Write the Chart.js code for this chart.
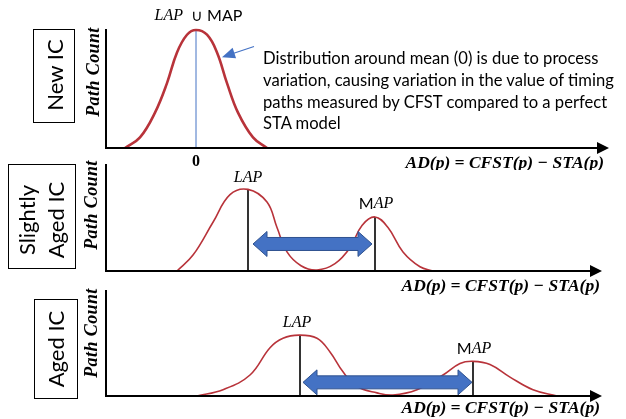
<!DOCTYPE html>
<html>
<head>
<meta charset="utf-8">
<script src="https://cdn.jsdelivr.net/npm/chart.js@4/dist/chart.umd.min.js"></script>
<style>
  body { margin: 0; background: #fff; }
  #wrap { position: relative; width: 626px; height: 419px; overflow: hidden; font-family: Lato, "Open Sans", sans-serif; }
  canvas { position: absolute; left: 0; }
  .box { position: absolute; border: 1.5px solid #000; box-sizing: border-box; }
  .rot { position: absolute; transform: translate(-50%, -50%) rotate(-90deg); white-space: nowrap; text-align: center; }
  .ic { font-size: 22px; line-height: 29px; }
  .pc { font: bold italic 18px "Liberation Serif", serif; letter-spacing: 0.4px; }
  #desc { position: absolute; left: 263px; top: 48px; font-size: 16.6px; line-height: 21.8px; white-space: nowrap; }
</style>
</head>
<body>
<div id="wrap">
  <canvas id="c1" width="626" height="170" style="top:0"></canvas>
  <canvas id="c2" width="626" height="150" style="top:150px"></canvas>
  <canvas id="c3" width="626" height="139" style="top:280px"></canvas>

  <div class="box" style="left:33px;top:29px;width:42px;height:94px"></div>
  <div class="rot ic" style="left:54px;top:75px">New IC</div>
  <div class="box" style="left:8px;top:164px;width:68px;height:105px"></div>
  <div class="rot ic" style="left:41px;top:220px">Slightly<br>Aged IC</div>
  <div class="box" style="left:34px;top:299px;width:44px;height:100px"></div>
  <div class="rot ic" style="left:55px;top:349px">Aged IC</div>

  <div class="rot pc" style="left:93px;top:72px">Path Count</div>
  <div class="rot pc" style="left:91px;top:205px">Path Count</div>
  <div class="rot pc" style="left:91px;top:333px">Path Count</div>

  <div id="desc">Distribution around mean (0) is due to process<br>variation, causing variation in the value of timing<br>paths measured by CFST compared to a perfect<br>STA model</div>
</div>
<script>
const xMin = -9, xMax = 40.5;

// New IC
const newX = [-7.1, -5.6, -4.1, -2.9, -1.9, -0.9, 0, 1.1, 2.1, 3.1, 4.2, 5.7, 7.1];
const newY = [0, 0.09, 0.30, 0.55, 0.81, 0.96, 1.0, 0.96, 0.81, 0.55, 0.30, 0.09, 0];

// Slightly aged IC
const slightX = [-1.9, -0.3, 1.7, 3.4, 5.2, 7.1, 8.1, 9.1, 10.5, 12.1, 13.9, 15.4, 16.6, 17.9, 19.2, 20.7, 22.4, 23.7];
const slightY = [0, 0.15, 0.46, 0.72, 0.77, 0.65, 0.41, 0.18, 0.05, 0.01, 0.07, 0.22, 0.43, 0.51, 0.41, 0.18, 0.04, 0];

// Aged IC
const agedX = [0.1, 2.7, 5.4, 7.4, 8.7, 10.3, 12.1, 13.4, 14.7, 16.1, 18.1, 19.7, 22.1, 24.7, 26.4, 27.7, 29.4, 31.4, 33.7, 36.1];
const agedY = [0, 0.06, 0.20, 0.46, 0.55, 0.58, 0.55, 0.42, 0.23, 0.09, 0.03, 0.01, 0.06, 0.20, 0.31, 0.33, 0.30, 0.18, 0.06, 0];

// LAP / MAP markers: [x, height]
const slightLap = [5.2, 0.77], slightMap = [17.9, 0.51];
const agedLap = [10.4, 0.58], agedMap = [27.7, 0.33];

// double arrows: [from, to, y]
const slightShift = [5.7, 17.6, 0.255];
const agedShift = [10.7, 27.6, 0.13];

const axisEnd = [41.3, 40.6, 40.6];
const adText = "AD(p) = CFST(p) \u2212 STA(p)";

const red = '#B8333A';
const blue = '#4472C4';

function pts(xs, ys) { return xs.map((x, i) => ({ x: x, y: ys[i] })); }
function vline(x, h) { return [{ x: x, y: 0 }, { x: x, y: h }]; }

function drawDoubleArrow(ctx, x1, x2, y, shaft, head, len) {
  ctx.beginPath();
  ctx.moveTo(x1, y);
  ctx.lineTo(x1 + len, y - head);
  ctx.lineTo(x1 + len, y - shaft);
  ctx.lineTo(x2 - len, y - shaft);
  ctx.lineTo(x2 - len, y - head);
  ctx.lineTo(x2, y);
  ctx.lineTo(x2 - len, y + head);
  ctx.lineTo(x2 - len, y + shaft);
  ctx.lineTo(x1 + len, y + shaft);
  ctx.lineTo(x1 + len, y + head);
  ctx.closePath();
  ctx.fillStyle = blue;
  ctx.fill();
  ctx.strokeStyle = '#2F528F';
  ctx.lineWidth = 1;
  ctx.stroke();
}

function drawMap(ctx, x, y) {
  // "M" upright sans, "AP" italic serif
  ctx.fillStyle = '#000';
  ctx.textBaseline = 'middle';
  ctx.font = '16px Lato, sans-serif';
  const wM = ctx.measureText('M').width;
  ctx.font = 'italic 16px "Liberation Serif", serif';
  const wAP = ctx.measureText('AP').width;
  const left = x - (wM + wAP) / 2;
  ctx.textAlign = 'left';
  ctx.font = '16px Lato, sans-serif';
  ctx.fillText('M', left, y);
  ctx.font = 'italic 16px "Liberation Serif", serif';
  ctx.fillText('AP', left + wM, y);
}

function makePlugin(idx, opts) {
  return {
    id: 'deco' + idx,
    afterDatasetsDraw(chart) {
      const ctx = chart.ctx;
      const a = chart.chartArea;
      const xs = chart.scales.x, ys = chart.scales.y;
      ctx.save();
      // axes
      ctx.strokeStyle = '#000';
      ctx.lineWidth = 2;
      ctx.beginPath();
      ctx.moveTo(a.left, a.top - 1);
      ctx.lineTo(a.left, a.bottom);
      const tip = xs.getPixelForValue(axisEnd[idx]);
      ctx.lineTo(tip - 10, a.bottom);
      ctx.stroke();
      ctx.fillStyle = '#000';
      ctx.beginPath();
      ctx.moveTo(tip, a.bottom);
      ctx.lineTo(tip - 12, a.bottom - 6);
      ctx.lineTo(tip - 12, a.bottom + 6);
      ctx.closePath();
      ctx.fill();

      // AD(p) label
      ctx.font = 'bold italic 17.5px "Liberation Serif", serif';
      ctx.textAlign = 'right';
      ctx.textBaseline = 'middle';
      ctx.fillText(adText, opts.adRight, a.bottom + opts.adDy);

      if (opts.shift) {
        const s = opts.shift;
        drawDoubleArrow(ctx, xs.getPixelForValue(s[0]), xs.getPixelForValue(s[1]), ys.getPixelForValue(s[2]), 6.5, 12.5, 14);
      }
      if (opts.lap) {
        ctx.fillStyle = '#000';
        ctx.font = 'italic 16px "Liberation Serif", serif';
        ctx.textAlign = 'center';
        ctx.fillText('LAP', xs.getPixelForValue(opts.lap[0]) + opts.lapDx, ys.getPixelForValue(opts.lap[1]) - 12);
        drawMap(ctx, xs.getPixelForValue(opts.map[0]) + 1, ys.getPixelForValue(opts.map[1]) - 13);
      }
      if (idx === 0) {
        const cx = xs.getPixelForValue(0);
        ctx.fillStyle = '#000';
        ctx.font = 'bold 16px "Liberation Serif", serif';
        ctx.textAlign = 'center';
        ctx.fillText('0', cx, a.bottom + 14);
        // top label
        ctx.font = 'italic 16px "Liberation Serif", serif';
        ctx.textAlign = 'right';
        ctx.fillText('LAP', cx - 13, 16);
        ctx.font = '16px Lato, sans-serif';
        ctx.textAlign = 'left';
        ctx.fillText('\u222A MAP', cx - 5, 16);
        // small pointer arrow
        const x1 = xs.getPixelForValue(5.8), y1 = ys.getPixelForValue(0.86);
        const x2 = xs.getPixelForValue(2.6), y2 = ys.getPixelForValue(0.77);
        const ang = Math.atan2(y2 - y1, x2 - x1);
        ctx.strokeStyle = blue;
        ctx.lineWidth = 1.2;
        ctx.beginPath();
        ctx.moveTo(x1, y1);
        ctx.lineTo(x2 - 10 * Math.cos(ang), y2 - 10 * Math.sin(ang));
        ctx.stroke();
        ctx.fillStyle = blue;
        ctx.beginPath();
        ctx.moveTo(x2, y2);
        ctx.lineTo(x2 - 13 * Math.cos(ang) + 5.5 * Math.sin(ang), y2 - 13 * Math.sin(ang) - 5.5 * Math.cos(ang));
        ctx.lineTo(x2 - 13 * Math.cos(ang) - 5.5 * Math.sin(ang), y2 - 13 * Math.sin(ang) + 5.5 * Math.cos(ang));
        ctx.closePath();
        ctx.fill();
      }
      ctx.restore();
    }
  };
}

function drawPanel(id, idx, datasets, padding, opts) {
  new Chart(document.getElementById(id), {
    type: 'line',
    data: { datasets: datasets },
    options: {
      responsive: false,
      animation: false,
      events: [],
      layout: { padding: padding },
      plugins: { legend: { display: false }, tooltip: { enabled: false } },
      scales: {
        x: { type: 'linear', min: xMin, max: xMax, display: false },
        y: { min: 0, max: 1, display: false }
      }
    },
    plugins: [makePlugin(idx, opts)]
  });
}

function curve(xs, ys, w) {
  return { data: pts(xs, ys), borderColor: red, borderWidth: w, pointRadius: 0, tension: 0.4, clip: false };
}
function marker(m, color) {
  return { data: vline(m[0], m[1]), borderColor: color, borderWidth: 1.6, pointRadius: 0, clip: false };
}

drawPanel('c1', 0, [
  curve(newX, newY, 2.6),
  { data: vline(0, 1.0), borderColor: blue, borderWidth: 1, pointRadius: 0, clip: false }
], { left: 106, right: 25, top: 30, bottom: 22 }, { adRight: 604, adDy: 15 });

drawPanel('c2', 1, [
  curve(slightX, slightY, 1.6),
  marker(slightLap, '#000'),
  marker(slightMap, '#000')
], { left: 106, right: 25, top: 15, bottom: 29 }, { adRight: 600, adDy: 15, shift: slightShift, lap: slightLap, map: slightMap, lapDx: 0 });

drawPanel('c3', 2, [
  curve(agedX, agedY, 1.6),
  marker(agedLap, '#000'),
  marker(agedMap, '#000')
], { left: 106, right: 25, top: 11, bottom: 23 }, { adRight: 600, adDy: 12, shift: agedShift, lap: agedLap, map: agedMap, lapDx: -3 });
</script>
</body>
</html>
